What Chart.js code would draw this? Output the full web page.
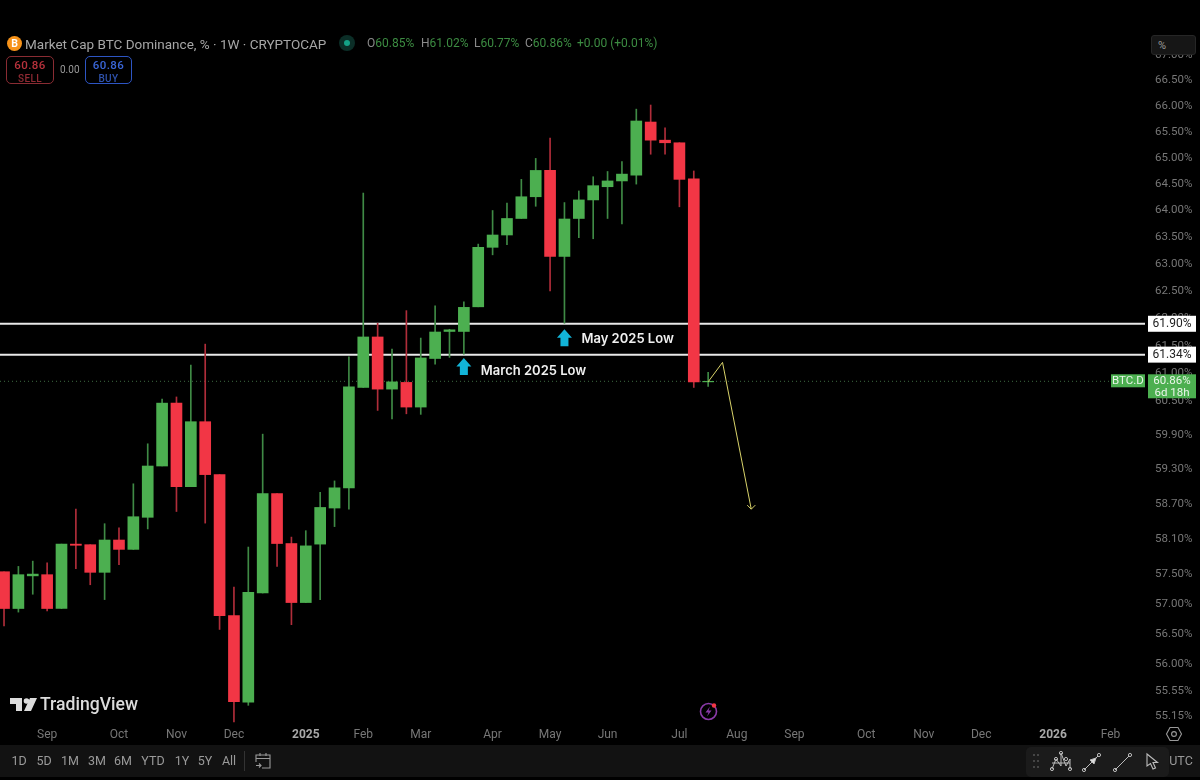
<!DOCTYPE html>
<html>
<head>
<meta charset="utf-8">
<script src="https://cdn.jsdelivr.net/npm/chart.js@4/dist/chart.umd.min.js"></script>
<style>
  html, body { margin: 0; padding: 0; background: #000; }
  body { width: 1200px; height: 780px; position: relative; overflow: hidden; font-family: Roboto, sans-serif; }
  canvas { position: absolute; left: 0; top: 0; }
  .t { position: absolute; white-space: nowrap; line-height: 1; }
  .box { position: absolute; box-sizing: border-box; border-radius: 5px; text-align: center; line-height: 12px; padding-top: 1px; font-weight: 500; letter-spacing: .4px; }
  .bar { position: absolute; left: 0; top: 745px; width: 1200px; height: 32px; background: #121212; }
  .rng { position: absolute; top: 755px; color: #9a9a9a; font-size: 12.5px; line-height: 1; transform: translateX(-50%); }
  svg { position: absolute; overflow: visible; }
</style>
</head>
<body>
<canvas id="chart" width="1200" height="745"></canvas>

<svg style="left:7px;top:36px" width="15" height="15"><circle cx="7.5" cy="7.5" r="7.5" fill="#f7931a"/><text x="7.5" y="11" font-size="10.5" font-weight="700" fill="#fff" text-anchor="middle" font-family="Roboto">B</text></svg>
<div class="t" style="left:25px;top:38px;font-size:13.5px;color:#a6a6a6">Market Cap BTC Dominance, % · 1W · CRYPTOCAP</div>
<svg style="left:338px;top:34px" width="18" height="18"><circle cx="9" cy="9" r="8" fill="#0b2e27"/><circle cx="9" cy="9" r="3" fill="#14a085"/></svg>

<div class="t" style="left:367px;top:37px;font-size:12px;color:#8a8a8a">O<span style="color:#3c8c42">60.85%</span></div>
<div class="t" style="left:421px;top:37px;font-size:12px;color:#8a8a8a">H<span style="color:#3c8c42">61.02%</span></div>
<div class="t" style="left:474px;top:37px;font-size:12px;color:#8a8a8a">L<span style="color:#3c8c42">60.77%</span></div>
<div class="t" style="left:525px;top:37px;font-size:12px;color:#8a8a8a">C<span style="color:#3c8c42">60.86%</span></div>
<div class="t" style="left:577px;top:37px;font-size:12px;color:#3c8c42">+0.00 (+0.01%)</div>

<div class="box" style="left:6px;top:56px;width:48px;height:28px;border:1px solid #8a2c33;color:#b8323c"><span style="font-size:11.5px">60.86</span><br><span style="font-size:10px;color:#8f2a33">SELL</span></div>
<div class="t" style="left:60px;top:65px;font-size:10px;color:#9a9a9a">0.00</div>
<div class="box" style="left:85px;top:56px;width:47px;height:28px;border:1px solid #2d55c4;color:#3a66d8"><span style="font-size:11.5px">60.86</span><br><span style="font-size:10px;color:#2f52ad">BUY</span></div>

<div class="box" style="left:1151px;top:35px;width:45px;height:20px;border-radius:3px;background:#161616;border:1px solid #262626;text-align:left;color:#9a9a9a;font-size:11px;font-weight:400;line-height:11px;padding:4px 0 0 6px">%</div>

<svg style="left:10px;top:698px" width="30" height="15"><path d="M0 0H12V13H6V6H0Z M14 13L20 0H27L21 13Z" fill="#dcdcdc"/><circle cx="16.5" cy="3" r="2.8" fill="#dcdcdc"/></svg>
<div class="t" style="left:40px;top:696px;font-size:17.6px;font-weight:500;color:#dcdcdc">TradingView</div>

<svg style="left:699px;top:702px" width="20" height="20"><circle cx="9.5" cy="9.5" r="8" fill="none" stroke="#8a3aa8" stroke-width="1.6"/><path d="M11 4.5L6.5 10.5H9.5L8 14.5L12.5 8.5H9.5Z" fill="#8a3aa8"/><circle cx="15" cy="3.5" r="2.2" fill="#f23645"/></svg>
<svg style="left:1166px;top:726px" width="16" height="16"><path d="M4 1.5H12L15.5 8L12 14.5H4L.5 8Z" fill="none" stroke="#9a9a9a" stroke-width="1.1"/><circle cx="8" cy="8" r="2.4" fill="none" stroke="#9a9a9a" stroke-width="1.1"/></svg>

<div class="bar"></div>
<div class="rng" style="left:19px">1D</div>
<div class="rng" style="left:44px">5D</div>
<div class="rng" style="left:70px">1M</div>
<div class="rng" style="left:97px">3M</div>
<div class="rng" style="left:123px">6M</div>
<div class="rng" style="left:153px">YTD</div>
<div class="rng" style="left:182px">1Y</div>
<div class="rng" style="left:205px">5Y</div>
<div class="rng" style="left:229px">All</div>
<div style="position:absolute;left:244px;top:751px;width:1px;height:20px;background:#333"></div>
<svg style="left:255px;top:752px" width="18" height="18" fill="none" stroke="#9a9a9a" stroke-width="1.1"><path d="M1 10V3H15V16H7M1 6.5H15M5 1V4M11 1V4M1 13.5H5.5M4 11.5L6 13.5L4 15.5"/></svg>

<div style="position:absolute;left:1026px;top:747px;width:143px;height:30px;background:#1b1b1b;border-radius:5px"></div>
<svg style="left:1033px;top:752px" width="6" height="20" fill="#555"><circle cx="1" cy="3" r="1"/><circle cx="5" cy="3" r="1"/><circle cx="1" cy="9" r="1"/><circle cx="5" cy="9" r="1"/><circle cx="1" cy="15" r="1"/><circle cx="5" cy="15" r="1"/></svg>
<svg style="left:1050px;top:751px" width="22" height="22" fill="none" stroke="#bbb" stroke-width="1"><path d="M2 18L6 8L11 15L11 2L16 15L20 8L20 18M2 12H20"/><circle cx="2" cy="18" r="1.6"/><circle cx="11" cy="2" r="1.6"/><circle cx="20" cy="18" r="1.6"/><circle cx="6" cy="8" r="1.6"/><circle cx="16" cy="8" r="1.6"/></svg>
<svg style="left:1082px;top:752px" width="20" height="20" fill="none" stroke="#bbb" stroke-width="1"><path d="M2 18L16 4"/><circle cx="2" cy="18" r="1.6"/><circle cx="17" cy="3" r="1.6"/><path d="M8 8L14 6L12 12Z" fill="#ddd"/></svg>
<svg style="left:1113px;top:752px" width="20" height="20" fill="none" stroke="#bbb" stroke-width="1"><path d="M2 18L16 4"/><circle cx="2" cy="18" r="1.6"/><circle cx="17" cy="3" r="1.6"/></svg>
<svg style="left:1146px;top:753px" width="14" height="18" fill="none" stroke="#bbb" stroke-width="1.1"><path d="M1 1L1 13L4.5 10.5L7 16L9.5 15L7 9.5L11.5 9.5Z"/></svg>
<div class="rng" style="left:1181px">UTC</div>

<script>
// weekly candles
const weekOpen = [57.54, 56.92, 57.47, 57.49, 56.92, 58.01, 58.00, 57.53, 58.08, 57.92,
  58.47, 59.36, 60.47, 59.00, 60.14, 59.21, 56.80, 55.37, 57.18, 58.88,
  58.02, 57.02, 58.01, 58.63, 58.98, 60.75, 61.66, 60.72, 60.84, 60.40,
  61.27, 61.76, 61.76, 62.21, 63.31, 63.54, 63.85, 64.26, 64.76, 63.14,
  63.85, 64.20, 64.45, 64.56, 64.67, 65.69, 65.34, 65.29, 64.60, 60.85];
const weekHigh = [57.54, 57.63, 57.72, 57.69, 58.01, 58.61, 58.00, 58.36, 58.29, 59.05,
  59.75, 60.54, 60.58, 61.15, 61.53, 59.21, 57.28, 57.96, 59.92, 58.88,
  58.13, 58.24, 58.90, 59.10, 61.30, 64.33, 61.91, 61.44, 62.14, 61.64,
  62.23, 61.80, 62.30, 63.37, 64.00, 64.14, 64.59, 64.99, 65.38, 64.15,
  64.37, 64.64, 64.74, 64.93, 65.94, 66.02, 65.58, 65.29, 64.75, 61.02];
const weekLow = [56.63, 56.86, 57.16, 56.88, 56.92, 57.59, 57.32, 57.07, 57.66, 57.92,
  58.27, 59.36, 58.57, 59.00, 58.37, 56.57, 55.05, 55.32, 57.18, 57.63,
  56.65, 57.02, 57.07, 58.31, 58.61, 60.75, 60.34, 60.19, 60.28, 60.27,
  61.17, 61.29, 61.35, 62.21, 63.17, 63.36, 63.85, 64.08, 62.50, 61.91,
  63.49, 63.47, 63.85, 63.75, 64.50, 65.07, 65.07, 64.07, 60.75, 60.77];
const weekClose = [56.92, 57.49, 57.50, 56.92, 58.01, 57.99, 57.53, 58.08, 57.92, 58.48,
  59.36, 60.47, 59.00, 60.14, 59.21, 56.80, 55.38, 57.19, 58.88, 58.02,
  57.02, 57.98, 58.64, 58.98, 60.76, 61.66, 60.72, 60.85, 60.40, 61.28,
  61.75, 61.79, 62.20, 63.31, 63.54, 63.85, 64.26, 64.76, 63.14, 63.84,
  64.20, 64.47, 64.56, 64.69, 65.71, 65.34, 65.29, 64.59, 60.85, 60.86];

const priceTicks = [67, 66.5, 66, 65.5, 65, 64.5, 64, 63.5, 63, 62.5, 62, 61.5, 61, 60.5,
  59.9, 59.3, 58.7, 58.1, 57.5, 57, 56.5, 56, 55.55, 55.15];
const timeTickWeeks = [3, 8, 12, 16, 21, 25, 29, 34, 38, 42, 47, 51, 55, 60, 64, 68, 73, 77];
const timeTickLabels = ['Sep', 'Oct', 'Nov', 'Dec', '2025', 'Feb', 'Mar', 'Apr', 'May', 'Jun', 'Jul', 'Aug',
  'Sep', 'Oct', 'Nov', 'Dec', '2026', 'Feb'];

const levelHigh = 61.90;
const levelLow = 61.34;
const lastPrice = 60.86;
const pathWeeks = [49, 50, 52];
const pathPrices = [60.85, 61.20, 58.61];
const arrowWeeks = [51.72, 52, 52.28];
const arrowPrices = [58.68, 58.61, 58.68];
const noteWeeks = [32, 39];
const notePrices = [61.28, 61.80];
const noteTexts = ['March 2025 Low', 'May 2025 Low'];
const noteTextDrop = [13, 10];

const weekMin = -0.28, weekMax = 79.4;
const UP = '#4caf50', DOWN = '#f23645', UP_WICK = '#3f8a45', DOWN_WICK = '#b02d3a';
const tickFont = 'Roboto';

const weeks = weekOpen.map((_, i) => i);
const isUp = (i) => weekClose[i] >= weekOpen[i];
const hline = (v) => [{ x: weekMin, y: v }, { x: weekMax, y: v }];
const toPoints = (xs, ys) => xs.map((x, i) => ({ x: x, y: ys[i] }));

// price tags, arrows and notes sit on top of the axes
const overlay = {
  id: 'overlay',
  afterDraw(chart) {
    const { ctx, scales: { x, y } } = chart;
    ctx.save();

    noteWeeks.forEach((w, i) => {
      const cx = x.getPixelForValue(w), tip = y.getPixelForValue(notePrices[i]);
      ctx.fillStyle = '#12b4d8';
      ctx.beginPath();
      ctx.moveTo(cx, tip);
      ctx.lineTo(cx + 7.5, tip + 8.5);
      ctx.lineTo(cx + 4, tip + 8.5);
      ctx.lineTo(cx + 4, tip + 17);
      ctx.lineTo(cx - 4, tip + 17);
      ctx.lineTo(cx - 4, tip + 8.5);
      ctx.lineTo(cx - 7.5, tip + 8.5);
      ctx.closePath();
      ctx.fill();
      ctx.fillStyle = '#f0f0f0';
      ctx.font = '600 13px Inter';
      ctx.textAlign = 'left';
      ctx.textBaseline = 'middle';
      ctx.fillText(noteTexts[i], cx + 17, tip + noteTextDrop[i]);
    });

    [levelHigh, levelLow].forEach((v) => {
      const py = y.getPixelForValue(v);
      ctx.fillStyle = '#fff';
      ctx.fillRect(1148, py - 8, 48, 16);
      ctx.fillStyle = '#222';
      ctx.font = '12px ' + tickFont;
      ctx.textAlign = 'center';
      ctx.textBaseline = 'middle';
      ctx.fillText(v.toFixed(2) + '%', 1172, py + 0.5);
    });

    const py = y.getPixelForValue(lastPrice);
    ctx.fillStyle = UP;
    ctx.fillRect(1111, py - 7, 34, 13);
    ctx.fillRect(1148, py - 7, 48, 24);
    ctx.fillStyle = '#eaf5ea';
    ctx.font = '11.5px ' + tickFont;
    ctx.textAlign = 'center';
    ctx.textBaseline = 'middle';
    ctx.fillText('BTC.D', 1128, py);
    ctx.fillText(lastPrice.toFixed(2) + '%', 1172, py);
    ctx.fillText('6d 18h', 1172, py + 12);
    ctx.restore();
  }
};

new Chart(document.getElementById('chart').getContext('2d'), {
  data: {
    datasets: [
      {
        type: 'line', order: 7, data: hline(lastPrice), borderColor: '#3e6b42', borderWidth: 1,
        borderDash: [1, 3], pointRadius: 0
      },
      { type: 'line', order: 6, data: hline(levelHigh), borderColor: '#e8e8e8', borderWidth: 2, pointRadius: 0 },
      { type: 'line', order: 6, data: hline(levelLow), borderColor: '#e8e8e8', borderWidth: 2, pointRadius: 0 },
      {
        type: 'bar', order: 5, grouped: false, barThickness: 1,
        data: weeks.map((i) => ({ x: i, y: [weekLow[i], weekHigh[i]] })),
        backgroundColor: weeks.map((i) => (isUp(i) ? UP_WICK : DOWN_WICK))
      },
      {
        type: 'bar', order: 4, grouped: false, barThickness: 11,
        data: weeks.map((i) => ({ x: i, y: [weekOpen[i], weekClose[i]] })),
        backgroundColor: weeks.map((i) => (isUp(i) ? UP : DOWN))
      },
      {
        type: 'line', order: 2, data: toPoints(pathWeeks, pathPrices), borderColor: '#d9d36a',
        borderWidth: 1, pointRadius: 0, tension: 0
      },
      {
        type: 'line', order: 2, data: toPoints(arrowWeeks, arrowPrices), borderColor: '#d9d36a',
        borderWidth: 1, pointRadius: 0, tension: 0
      }
    ]
  },
  options: {
    responsive: false,
    animation: false,
    events: [],
    layout: { padding: { top: 55 } },
    plugins: { legend: { display: false }, tooltip: { enabled: false } },
    scales: {
      x: {
        type: 'linear', offset: false, min: weekMin, max: weekMax,
        grid: { display: false, drawTicks: false }, border: { display: false },
        afterBuildTicks: (s) => { s.ticks = timeTickWeeks.map((w) => ({ value: w })); },
        afterFit: (s) => { s.height = 20; },
        ticks: {
          autoSkip: false, maxRotation: 0, padding: 3,
          callback: (v) => timeTickLabels[timeTickWeeks.indexOf(v)],
          color: (c) => (c.tick && [21, 73].includes(c.tick.value) ? '#a8a8a8' : '#777'),
          font: (c) => ({
            family: tickFont, size: 12,
            weight: c.tick && [21, 73].includes(c.tick.value) ? '700' : '400'
          })
        }
      },
      y: {
        type: 'logarithmic', position: 'right', min: 55, max: 67,
        grid: { display: false, drawTicks: false }, border: { display: false },
        afterBuildTicks: (s) => { s.ticks = priceTicks.map((v) => ({ value: v })); },
        afterFit: (s) => { s.width = 55; },
        ticks: {
          autoSkip: false, padding: 10, color: '#777',
          font: { family: tickFont, size: 11.5 },
          callback: (v) => v.toFixed(2) + '%'
        }
      }
    }
  },
  plugins: [overlay]
});
</script>
</body>
</html>
